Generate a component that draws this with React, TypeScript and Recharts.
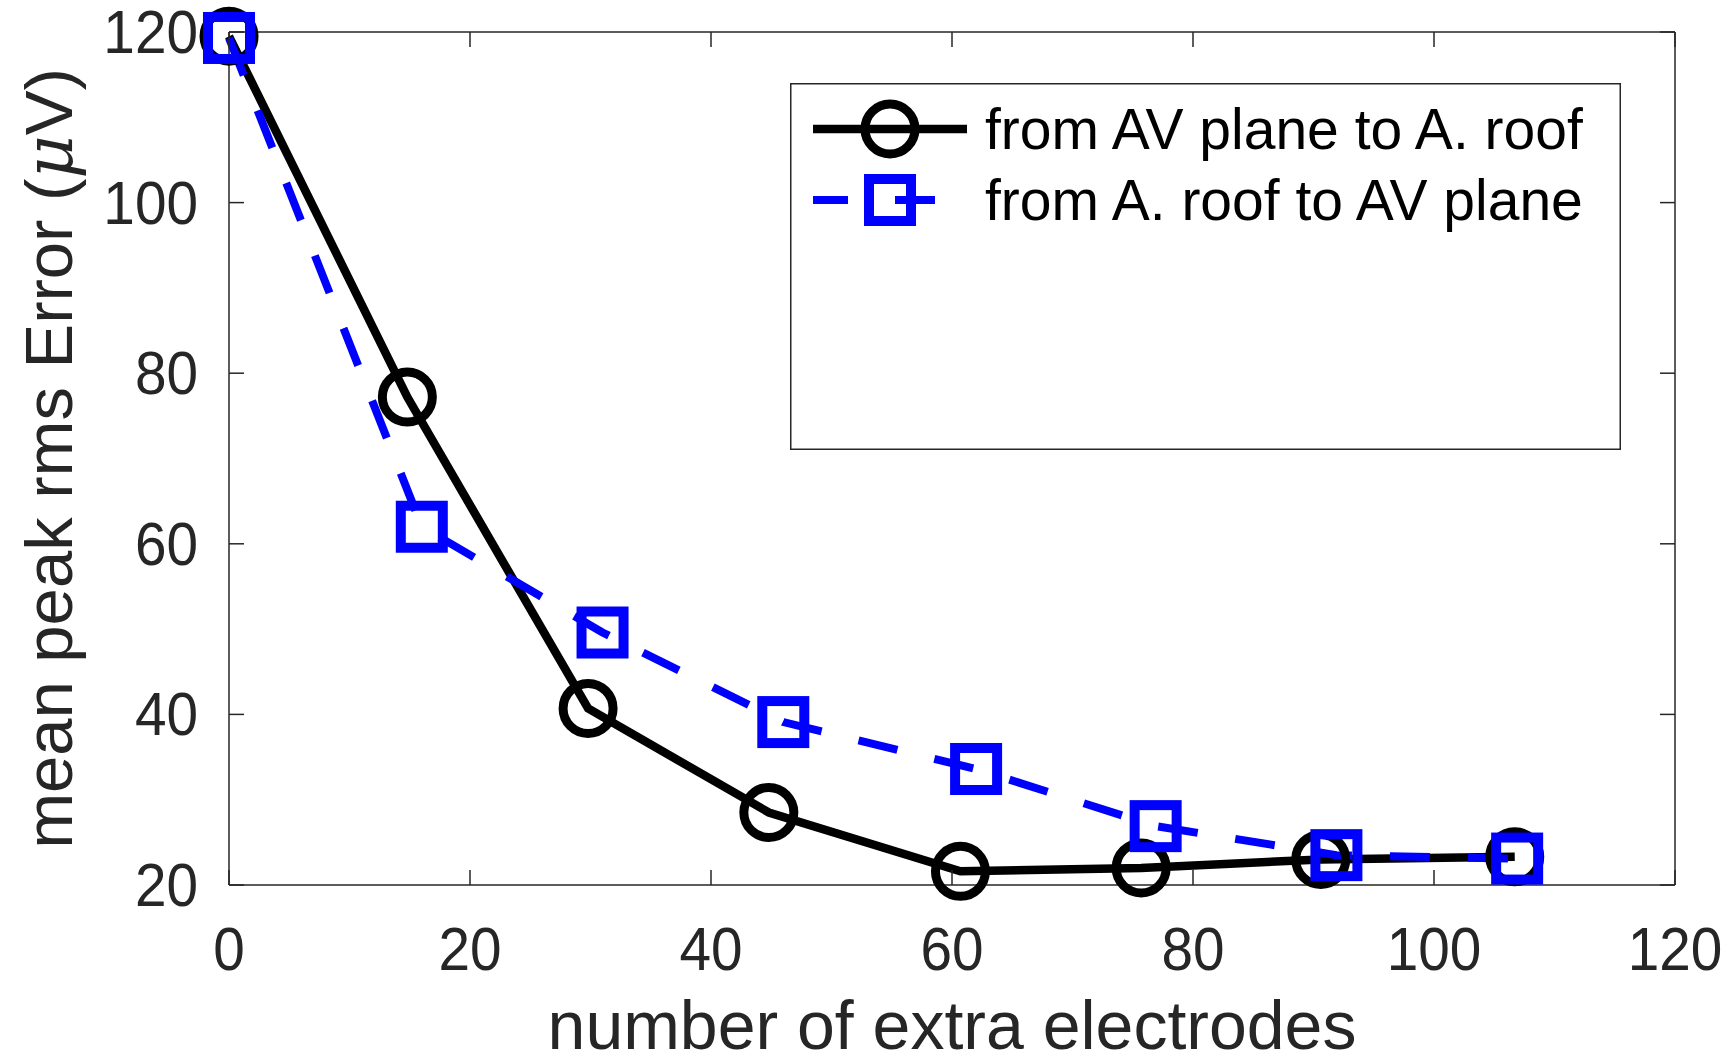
import React from "react";
import { LineChart, Line, XAxis, YAxis, Legend } from "recharts";

const xTicks = [0, 20, 40, 60, 80, 100, 120];
const yTicks = [20, 40, 60, 80, 100, 120];

const avToRoofX = [0, 14.8, 29.8, 44.8, 60.7, 75.7, 90.6, 106.7];
const avToRoofY = [119.5, 77.2, 40.7, 28.5, 21.6, 22.0, 23.0, 23.3];
const roofToAvX = [0, 16, 31, 46, 62, 76.9, 91.9, 106.9];
const roofToAvY = [119.3, 62.0, 49.6, 39.1, 33.6, 26.9, 23.5, 23.1];

const seriesNames = ["from AV plane to A. roof", "from A. roof to AV plane"];

const blackData = avToRoofX.map((x, i) => ({ x, y: avToRoofY[i] }));
const blueData = roofToAvX.map((x, i) => ({ x, y: roofToAvY[i] }));

const FONT = '"Liberation Sans", Arial, Helvetica, sans-serif';
const AXIS = "#262626";
const BLUE = "#0000ff";

function XTick({ x, y, payload }: any) {
  return (
    <text transform={`translate(${x},${y + 85}) scale(0.93,1)`} textAnchor="middle"
      fontSize={61} fontFamily={FONT} fill={AXIS}>{payload.value}</text>
  );
}

function YTick({ x, y, payload }: any) {
  return (
    <text transform={`translate(${x - 31},${y + 21}) scale(0.93,1)`} textAnchor="end"
      fontSize={61} fontFamily={FONT} fill={AXIS}>{payload.value}</text>
  );
}

const NoTick = () => <g />;

function SquareDot({ cx, cy }: any) {
  if (cx == null || cy == null) return null;
  return <rect x={cx - 21} y={cy - 21} width={42} height={42} fill="none" stroke={BLUE} strokeWidth={10} />;
}

const xTitle = (props: any) => {
  const vb = props.viewBox ?? { x: 229, y: 885, width: 1446, height: 175 };
  return (
    <text x={vb.x + vb.width / 2} y={vb.y + 164} textAnchor="middle" fontSize={68} fontFamily={FONT} fill={AXIS}>
      number of extra electrodes
    </text>
  );
};

const yTitle = (props: any) => {
  const vb = props.viewBox ?? { x: 0, y: 32, width: 229, height: 853 };
  return (
    <text transform={`translate(72,${vb.y + vb.height / 2}) rotate(-90)`} textAnchor="middle"
      fontSize={67} fontFamily={FONT} fill={AXIS}>
      mean peak rms Error (<tspan fontStyle="italic" fontFamily="DejaVu Serif">μ</tspan>V)
    </text>
  );
};

function LegendBox({ payload }: any) {
  const items = payload ?? [];
  return (
    <svg width={831} height={367} style={{ display: "block" }}>
      <rect x={0.75} y={0.75} width={829.5} height={365.5} fill="#fff" stroke={AXIS} strokeWidth={1.5} />
      {seriesNames.map((name, i) => {
        const entry = items.find((p: any) => p.value === name);
        const cy = i === 0 ? 46 : 117;
        const isBlue = i === 1;
        return (
          <g key={name}>
            {isBlue ? (
              <>
                <line x1={23} x2={58} y1={cy} y2={cy} stroke={entry?.color ?? BLUE} strokeWidth={8} />
                <line x1={105} x2={145} y1={cy} y2={cy} stroke={entry?.color ?? BLUE} strokeWidth={8} />
                <rect x={79} y={cy - 21} width={42} height={42} fill="none" stroke={BLUE} strokeWidth={10} />
              </>
            ) : (
              <>
                <line x1={23} x2={177} y1={cy} y2={cy} stroke="#000" strokeWidth={8.5} />
                <circle cx={100} cy={cy} r={25} fill="none" stroke="#000" strokeWidth={9} />
              </>
            )}
            <text x={195} y={cy + 20} fontSize={57} fontFamily={FONT} fill="#000">{name}</text>
          </g>
        );
      })}
    </svg>
  );
}

export default function App() {
  return (
    <div style={{ position: "absolute", left: 0, top: 0, width: 1729, height: 1060, background: "#fff" }}>
      <LineChart width={1729} height={1060} data={blackData} margin={{ top: 32, right: 54, left: 0, bottom: 0 }}>
        <XAxis xAxisId="x" type="number" dataKey="x" domain={[0, 120]} ticks={xTicks} height={175}
          stroke={AXIS} axisLine={{ stroke: AXIS, strokeWidth: 1.5 }} tickLine={false}
          tickSize={0} tickMargin={0} tick={<XTick />} label={xTitle} />
        <XAxis xAxisId="xb" type="number" dataKey="x" orientation="bottom" mirror domain={[0, 120]} ticks={xTicks}
          stroke={AXIS} axisLine={false} tickSize={15} tickLine={{ stroke: AXIS, strokeWidth: 1.5 }} tick={<NoTick />} />
        <XAxis xAxisId="xt" type="number" dataKey="x" orientation="top" mirror domain={[0, 120]} ticks={xTicks}
          stroke={AXIS} axisLine={{ stroke: AXIS, strokeWidth: 1.5 }} tickSize={15}
          tickLine={{ stroke: AXIS, strokeWidth: 1.5 }} tick={<NoTick />} />
        <YAxis yAxisId="y" type="number" domain={[20, 120]} ticks={yTicks} width={229}
          stroke={AXIS} axisLine={{ stroke: AXIS, strokeWidth: 1.5 }} tickLine={false}
          tickSize={0} tickMargin={0} tick={<YTick />} label={yTitle} />
        <YAxis yAxisId="yl" type="number" dataKey="y" orientation="left" mirror domain={[20, 120]} ticks={yTicks}
          stroke={AXIS} axisLine={false} tickSize={15} tickLine={{ stroke: AXIS, strokeWidth: 1.5 }} tick={<NoTick />} />
        <YAxis yAxisId="yr" type="number" dataKey="y" orientation="right" mirror domain={[20, 120]} ticks={yTicks}
          stroke={AXIS} axisLine={{ stroke: AXIS, strokeWidth: 1.5 }} tickSize={15}
          tickLine={{ stroke: AXIS, strokeWidth: 1.5 }} tick={<NoTick />} />
        <Legend layout="horizontal" align="center" verticalAlign="middle" content={<LegendBox />}
          wrapperStyle={{ position: "absolute", left: 790, top: 83, width: 831, height: 367 }} />
        <Line xAxisId="x" yAxisId="y" data={blackData} dataKey="y" name={seriesNames[0]} type="linear"
          stroke="#000" strokeWidth={8.5} dot={{ r: 25, stroke: "#000", strokeWidth: 9, fill: "none" }}
          activeDot={false} isAnimationActive={false} />
        <Line xAxisId="x" yAxisId="y" data={blueData} dataKey="y" name={seriesNames[1]} type="linear"
          stroke={BLUE} strokeWidth={8} strokeDasharray="40 38" dot={<SquareDot />}
          activeDot={false} isAnimationActive={false} />
      </LineChart>
    </div>
  );
}
